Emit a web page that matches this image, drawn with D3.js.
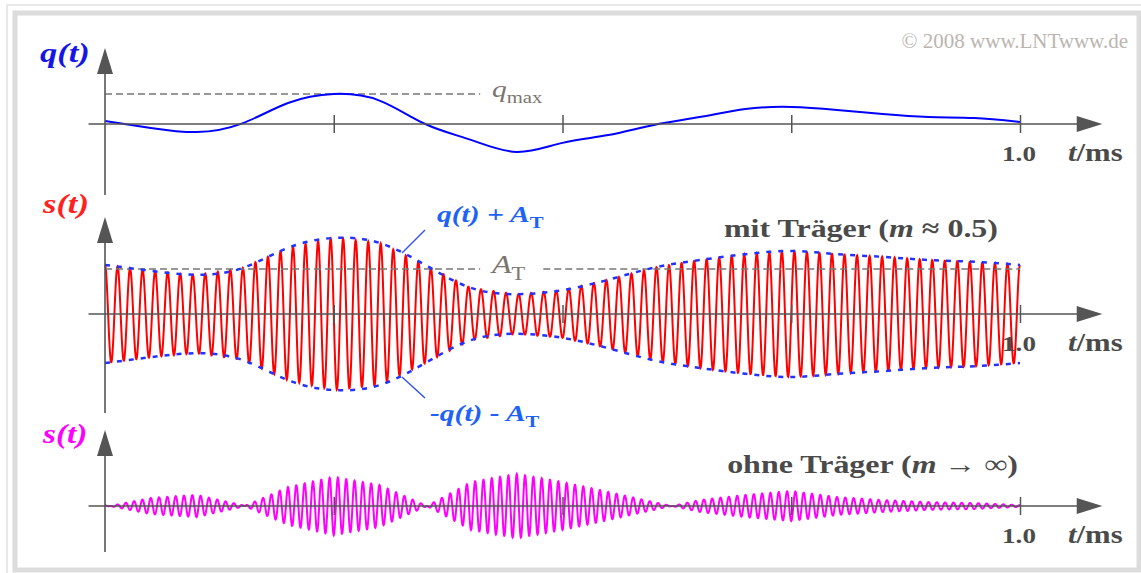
<!DOCTYPE html>
<html>
<head>
<meta charset="utf-8">
<title>AM mit und ohne Träger</title>
<script src="https://cdn.jsdelivr.net/npm/d3@7/dist/d3.min.js"></script>
<style>
    html, body {
        margin: 0;
        padding: 0;
        background: #fff;
    }

    svg text {
        font-family: "Liberation Serif", "Times New Roman", serif;
    }
</style>
</head>
<body>
<svg id="chart"></svg>
<script>
	// time grid in ms, values every 0.05 ms
	const tGrid = [0, 0.05, 0.10, 0.15, 0.20, 0.25, 0.30, 0.35, 0.40, 0.45, 0.50,
	               0.55, 0.60, 0.65, 0.70, 0.75, 0.80, 0.85, 0.90, 0.95, 1.00];
	// message q(t), in units of q_max
	const qMessage = [0.10, -0.13, -0.27, 0.02, 0.70, 1.00, 0.78, 0.00, -0.53, -0.93, -0.63,
	                  -0.37, -0.03, 0.23, 0.50, 0.57, 0.47, 0.33, 0.23, 0.20, 0.07];
	// envelope q(t) + A_T of the signal with carrier, in units of A_T
	const envCarrier = [1.09, 0.96, 0.87, 1.02, 1.47, 1.69, 1.58, 1.09, 0.58, 0.44, 0.53,
	                    0.76, 1.03, 1.20, 1.33, 1.40, 1.33, 1.27, 1.20, 1.16, 1.09];
	// signed amplitude of the signal without carrier, in units of q_max
	const ampNoCarrier = [0.03, -0.27, -0.37, -0.03, 0.63, 0.97, 0.70, 0.03, -0.80, -1.07, -0.80,
	                      -0.47, -0.13, 0.20, 0.37, 0.50, 0.30, 0.20, 0.13, 0.10, 0.03];
	const xTicks = [0.25, 0.5, 0.75, 1.0];
	const cyclesWith = 73;     // carrier periods per ms (mit Träger)
	const cyclesWithout = 110; // carrier periods per ms (ohne Träger)

	const width = 1141, height = 573;
	const SX = 1.23; // labels in the picture are stretched horizontally
	const axisColor = "#555";

	const svg = d3.select("#chart")
			.attr("width", width)
			.attr("height", height)
			.attr("viewBox", [0, 0, width, height]);

	// frame
	svg.append("rect")
			.attr("x", 7).attr("y", 5).attr("width", 1140).attr("height", 575)
			.attr("fill", "none").attr("stroke", "#e8e8e8").attr("stroke-width", 2);
	svg.append("rect")
			.attr("x", 15).attr("y", 13).attr("width", 1124).attr("height", 557)
			.attr("fill", "none").attr("stroke", "#dcdcdc").attr("stroke-width", 5);

	const x = d3.scaleLinear([0, 1], [105, 1020]);
	const yTop = d3.scaleLinear([0, 1], [124, 94]);  // q_max = 1
	const yMid = d3.scaleLinear([0, 1], [314, 269]); // A_T = 1
	const yBot = d3.scaleLinear([0, 1], [506, 476]);

	function addText(x0, y0, parts, {size = 24, fill = "#4a4a4a", weight = "bold", anchor = "start", sx = SX} = {}) {
		const t = svg.append("text")
				.attr("transform", `translate(${x0},${y0}) scale(${sx},1)`)
				.attr("font-size", size)
				.attr("font-weight", weight)
				.attr("fill", fill)
				.attr("text-anchor", anchor);
		let shift = 0;
		parts.forEach(p => {
			const s = t.append("tspan").text(p.text);
			if (p.italic) s.attr("font-style", "italic");
			if (p.sub) {
				s.attr("font-size", size * 0.7).attr("dy", size * 0.25);
				shift = size * 0.25;
			} else if (shift) {
				s.attr("dy", -shift);
				shift = 0;
			}
		});
		return t;
	}

	function drawAxes(y0, tip, bottom) {
		const g = svg.append("g").attr("fill", axisColor).attr("stroke", axisColor);
		g.append("line")
				.attr("x1", x(-0.018)).attr("x2", x(1.065))
				.attr("y1", y0).attr("y2", y0)
				.attr("stroke-width", 1.6);
		g.append("path")
				.attr("stroke", "none")
				.attr("d", `M${x(1.062)},${y0 - 8}L${x(1.09)},${y0}L${x(1.062)},${y0 + 8}Z`);
		g.append("line")
				.attr("x1", x(0)).attr("x2", x(0))
				.attr("y1", bottom).attr("y2", tip + 20)
				.attr("stroke-width", 1.6);
		g.append("path")
				.attr("stroke", "none")
				.attr("d", `M${x(0) - 8},${tip + 26}L${x(0)},${tip}L${x(0) + 8},${tip + 26}Z`);
		svg.append("g")
				.attr("transform", `translate(0,${y0 - 9})`)
				.call(d3.axisBottom(x).tickValues(xTicks).tickSize(18).tickFormat(() => ""))
				.call(a => a.select(".domain").remove())
				.call(a => a.selectAll("line").attr("stroke", axisColor).attr("stroke-width", 1.5));
		addText(x(1) - 1, y0 + 37, [{text: "1.0"}], {size: 22, anchor: "middle"});
		addText(1068, y0 + 37, [{text: "t", italic: true}, {text: "/ms"}], {size: 25});
	}

	const pts = (vals) => tGrid.map((t, i) => [t, vals[i]]);

	// ---------- top: q(t)
	svg.append("line")
			.attr("x1", x(0)).attr("x2", x(0.41))
			.attr("y1", yTop(1)).attr("y2", yTop(1))
			.attr("stroke", "#777").attr("stroke-width", 1.5).attr("stroke-dasharray", "7,4");
	svg.append("path")
			.attr("d", d3.line().x(d => x(d[0])).y(d => yTop(d[1])).curve(d3.curveNatural)(pts(qMessage)))
			.attr("fill", "none").attr("stroke", "#0000ff").attr("stroke-width", 2);
	drawAxes(124, 48, 195);

	// ---------- middle: s(t) mit Träger
	const envScale = d3.scaleLinear(tGrid, envCarrier);
	const samplesMid = d3.range(0, 3001).map(i => i / 3000);
	svg.append("path")
			.attr("d", d3.line()
					.x(t => x(t))
					.y(t => yMid(envScale(t) * Math.cos(2 * Math.PI * cyclesWith * t)))(samplesMid))
			.attr("fill", "none").attr("stroke", "#ff0000").attr("stroke-width", 2);
	svg.append("g")
			.selectAll("line")
			.data([[0, 0.41], [0.479, 1]])
			.join("line")
			.attr("x1", d => x(d[0])).attr("x2", d => x(d[1]))
			.attr("y1", yMid(1)).attr("y2", yMid(1))
			.attr("stroke", "#777").attr("stroke-width", 1.5).attr("stroke-dasharray", "7,4");
	[1, -1].forEach(sign => {
		svg.append("path")
				.attr("d", d3.line().x(d => x(d[0])).y(d => yMid(sign * d[1])).curve(d3.curveNatural)(pts(envCarrier)))
				.attr("fill", "none").attr("stroke", "#2233ff").attr("stroke-width", 2.5)
				.attr("stroke-dasharray", "5,7");
	});
	drawAxes(314, 217, 413);

	// leader lines to the envelope labels
	svg.append("g")
			.selectAll("line")
			.data([[425, 230, 402, 253], [402, 377, 425, 398]])
			.join("line")
			.attr("x1", d => d[0]).attr("y1", d => d[1])
			.attr("x2", d => d[2]).attr("y2", d => d[3])
			.attr("stroke", "#3355ee").attr("stroke-width", 1.5);

	// ---------- bottom: s(t) ohne Träger
	const ampScale = d3.scaleLinear(tGrid, ampNoCarrier);
	const samplesBot = d3.range(0, 4001).map(i => i / 4000);
	svg.append("path")
			.attr("d", d3.line()
					.x(t => x(t))
					.y(t => yBot(ampScale(t) * Math.cos(2 * Math.PI * cyclesWithout * t)))(samplesBot))
			.attr("fill", "none").attr("stroke", "#ff00ff").attr("stroke-width", 2);
	drawAxes(506, 430, 552);

	// ---------- labels
	addText(1128, 48, [{text: "© 2008 www.LNTwww.de"}], {size: 21, fill: "#bbb5b0", weight: "normal", anchor: "end", sx: 1});
	addText(40, 62, [{text: "q(t)", italic: true}], {size: 28, fill: "#1515e6"});
	addText(43, 213, [{text: "s(t)", italic: true}], {size: 28, fill: "#ff2020"});
	addText(43, 443, [{text: "s(t)", italic: true}], {size: 27, fill: "#ff00ff"});
	addText(492, 97, [{text: "q", italic: true}, {text: "max", sub: true}], {size: 24, fill: "#7b7570", weight: "normal"});
	addText(492, 273, [{text: "A", italic: true}, {text: "T", sub: true}], {size: 26, fill: "#7b7570", weight: "normal"});
	addText(437, 222, [{text: "q(t) + A", italic: true}, {text: "T", sub: true}], {size: 24, fill: "#1f63f5"});
	addText(430, 421, [{text: "-q(t) - A", italic: true}, {text: "T", sub: true}], {size: 24, fill: "#1f63f5"});
	addText(998, 237, [{text: "mit Träger ("}, {text: "m", italic: true}, {text: " ≈ 0.5)"}], {size: 26, anchor: "end"});
	addText(1018, 473, [{text: "ohne Träger ("}, {text: "m", italic: true}, {text: " → ∞)"}], {size: 26, anchor: "end"});
</script>
</body>
</html>
